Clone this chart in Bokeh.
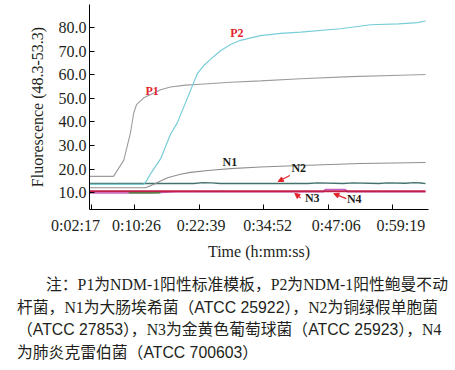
from bokeh.plotting import figure
from bokeh.layouts import column
from bokeh.models import Range1d, FixedTicker, Label, Arrow, NormalHead, Div
from bokeh.embed import file_html
from bokeh.resources import INLINE

# ---------------- data ----------------
tick_seconds = [137, 626, 1359, 2092, 2826, 3559]
tick_labels = ["0:02:17", "0:10:26", "0:22:39", "0:34:52", "0:47:06", "0:59:19"]
y_ticks = [10, 20, 30, 40, 50, 60, 70, 80]

p1_t = [120, 387, 504, 580, 617, 648, 731, 845, 921, 1034, 1205, 1375, 1716, 2056, 2511, 3078, 3646, 3930]
p1_y = [16.9, 16.9, 23.8, 35.5, 43.9, 47.3, 50.2, 52.3, 53.6, 54.8, 55.6, 56.0, 56.8, 57.4, 58.3, 59.2, 59.8, 60.1]

p2_t = [120, 728, 762, 807, 921, 1034, 1114, 1227, 1341, 1409, 1488, 1602, 1716, 1829, 2056, 2284, 2511, 2965, 3306, 3624, 3839, 3930]
p2_y = [13.5, 13.5, 15.0, 18.0, 24.3, 34.8, 39.8, 50.2, 60.6, 63.8, 66.5, 70.2, 72.8, 74.6, 76.6, 77.5, 78.1, 79.5, 81.2, 81.6, 82.1, 82.8]

n1_t = [120, 750, 841, 921, 1000, 1148, 1261, 1488, 1716, 2056, 2511, 3192, 3930]
n1_y = [12.1, 12.1, 13.5, 15.0, 16.3, 17.8, 18.6, 19.5, 20.2, 20.9, 21.5, 22.4, 22.8]

n2_t = [120, 1300, 1400, 1500, 1600, 2600, 2700, 3000, 3100, 3400, 3500, 3700, 3800, 3880, 3930]
n2_y = [13.9, 13.9, 14.3, 14.2, 13.9, 13.9, 14.2, 13.9, 14.2, 13.9, 14.2, 14.0, 14.3, 14.1, 13.8]

n3_t = [120, 1000, 2000, 3000, 3930]
n3_y = [10.6, 10.6, 10.6, 10.6, 10.6]

n4_t = [120, 800, 1100, 2772, 2790, 3022, 3040, 3930]
n4_y = [9.9, 9.9, 10.4, 10.4, 11.3, 11.3, 10.4, 10.4]

ctrl_t = [560, 920]
ctrl_y = [9.95, 9.95]

caption_lines = [
    "注：P1为NDM-1阳性标准模板，P2为NDM-1阳性鲍曼不动",
    "杆菌，N1为大肠埃希菌（<s>ATCC 25922</s>），N2为铜绿假单胞菌",
    "（<s>ATCC 27853</s>），N3为金黄色葡萄球菌（<s>ATCC 25923</s>），N4",
    "为肺炎克雷伯菌（<s>ATCC 700603</s>）",
]

# ---------------- styling ----------------
SERIF = "Liberation Serif"
INK = "#231f20"
RED = "#e3242b"

X0, X1 = 114.3, 3964.0
Y0, Y1 = 2.87, 89.78

p = figure(width=455, height=262, output_backend="svg", toolbar_location=None,
           x_range=Range1d(X0, X1), y_range=Range1d(Y0, Y1),
           min_border_left=89, min_border_right=27, min_border_top=4,
           min_border_bottom=51)
p.outline_line_color = None
p.grid.visible = False
p.background_fill_color = "white"
p.border_fill_color = "white"

p.line(n4_t, n4_y, line_color="#c462c4", line_width=1.5)
p.line(ctrl_t, ctrl_y, line_color="#3c9a3c", line_width=1.5)
p.line(n3_t, n3_y, line_color="#c21e4a", line_width=2)
p.line(n2_t, n2_y, line_color="#44716d", line_width=1.3)
p.line(n1_t, n1_y, line_color="#8e8e8e", line_width=1.1)
p.line(p1_t, p1_y, line_color="#9c9c9c", line_width=1.1)
p.line(p2_t, p2_y, line_color="#78cdd8", line_width=1.2)

# the source's tick labels sit slightly off their tick marks; pad with no-break spaces
NB = "\u00a0"
label_pad = [(0, 8), (1, 0), (1, 0), (2, 0), (4, 0), (4, 0)]  # (leading, trailing)
xa = p.xaxis[0]
xa.ticker = FixedTicker(ticks=tick_seconds)
xa.major_label_overrides = {t: NB * a + l + NB * b
                            for t, l, (a, b) in zip(tick_seconds, tick_labels, label_pad)}
xa.axis_label = "Time (h:mm:ss)"
xa.major_label_standoff = 7
xa.axis_label_standoff = 6

ya = p.yaxis[0]
ya.ticker = FixedTicker(ticks=y_ticks)
ya.major_label_overrides = {t: f"{t:.1f}" for t in y_ticks}
ya.axis_label = "Fluorescence (48.3-53.3)"
ya.major_label_standoff = 3
ya.axis_label_standoff = 10

for ax in (xa, ya):
    ax.major_tick_in = 5
    ax.major_tick_out = 0
    ax.minor_tick_line_color = None
    ax.axis_line_color = "black"
    ax.major_tick_line_color = "black"
    ax.major_label_text_font = SERIF
    ax.major_label_text_font_size = "16px"
    ax.major_label_text_color = INK
    ax.axis_label_text_font = SERIF
    ax.axis_label_text_font_size = "16px"
    ax.axis_label_text_font_style = "normal"
    ax.axis_label_text_color = INK

# curve labels (data units)
curve_labels = [
    ("P1", 826, 52.9, RED),
    ("P2", 1787, 77.8, RED),
    ("N1", 1708, 23.2, INK),
    ("N2", 2491, 20.6, INK),
    ("N3", 2644, 7.7, INK),
    ("N4", 3121, 7.5, INK),
]
for txt, x, y, c in curve_labels:
    p.add_layout(Label(x=x, y=y, text=txt, text_align="center", text_baseline="middle",
                       text_font=SERIF, text_font_style="bold", text_font_size="12px",
                       text_color=c))

arrows = [
    (2389, 17.26, 2257, 14.74),
    (2511, 7.78, 2446, 9.71),
    (3030, 7.48, 2889, 9.58),
]
for xs, ys, xe, ye in arrows:
    p.add_layout(Arrow(end=NormalHead(size=5, fill_color=RED, line_color=RED, line_width=1),
                       x_start=xs, y_start=ys, x_end=xe, y_end=ye,
                       line_color=RED, line_width=1.2))

# caption (HTML below the figure); <s> marks the sans-serif ATCC numbers
SANS_SPAN = '<span style="font-family:\'Liberation Sans\';">'
indents = [41, 12, 12, 12]
rows = "".join(
    f'<div style="padding-left:{ind}px;height:22.7px;line-height:22.7px;white-space:nowrap;">'
    f'{txt.replace("<s>", SANS_SPAN).replace("</s>", "</span>")}</div>'
    for ind, txt in zip(indents, caption_lines))
caption = Div(text=f'<div style="padding-top:7px;font-family:\'Liberation Serif\',\'Noto Sans CJK SC\';'
                   f'font-size:15.8px;color:{INK};">{rows}</div>',
              width=455, height=108)

layout = column(p, caption, spacing=0)
open("out.html", "w").write(file_html(layout, INLINE))
